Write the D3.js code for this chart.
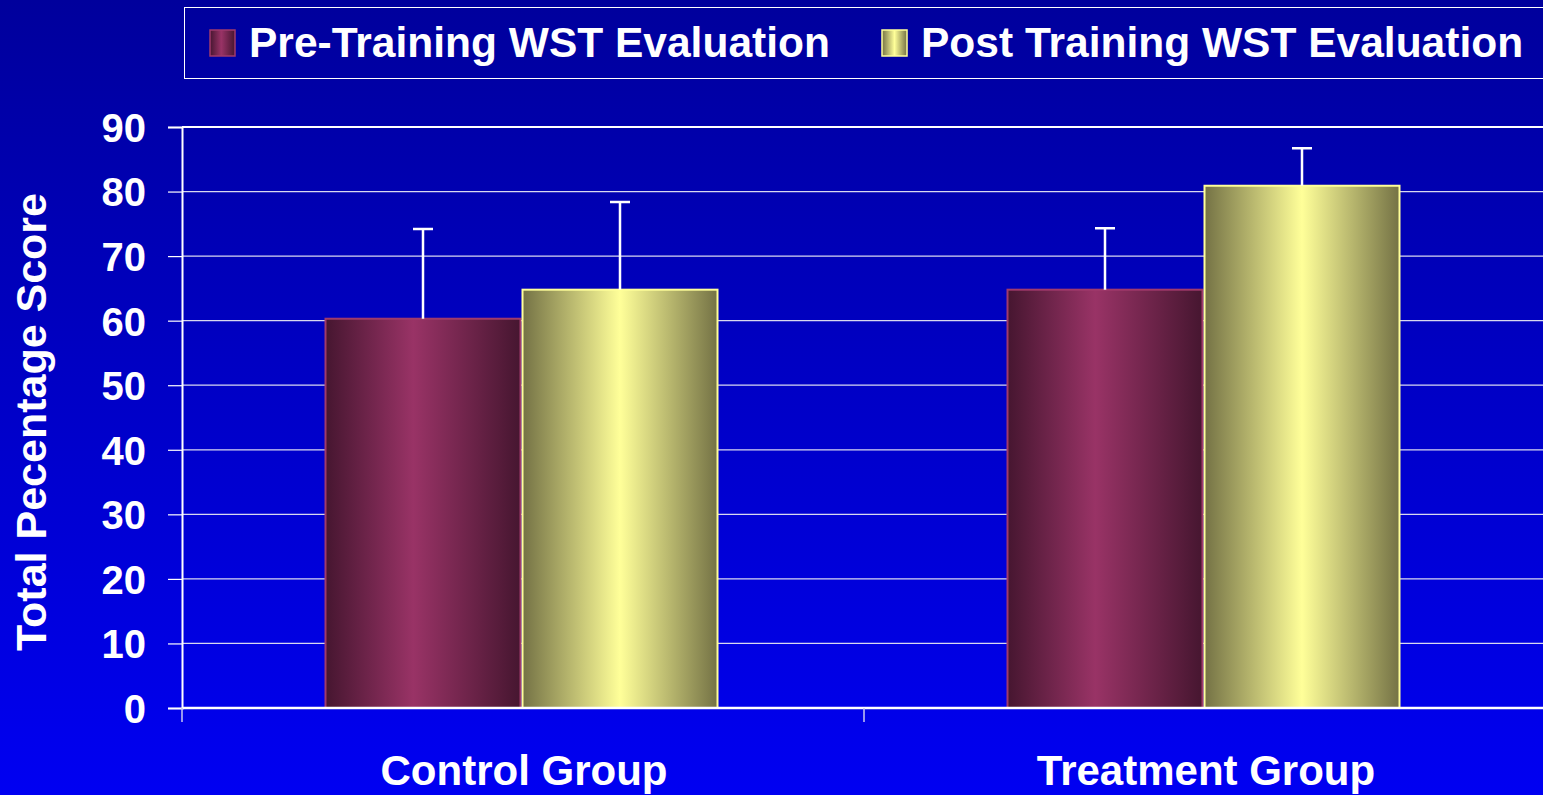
<!DOCTYPE html>
<html><head><meta charset="utf-8">
<script src="https://cdn.jsdelivr.net/npm/d3@7"></script>
<style>html,body{margin:0;padding:0;overflow:hidden;background:#0000c0}</style>
</head><body>
<script>
const categories = ["Control Group", "Treatment Group"];
const seriesNames = ["Pre-Training WST Evaluation", "Post Training WST Evaluation"];
const preValues = [60.3, 64.8];
const postValues = [64.8, 80.9];
const preErrors = [13.9, 9.5];
const postErrors = [13.6, 5.8];
const yTicks = [0, 10, 20, 30, 40, 50, 60, 70, 80, 90];
const yTitle = "Total Pecentage Score";

const W = 1543, H = 795;
const FONT = "Liberation Sans, Arial, sans-serif";
const svg = d3.select("body").append("svg").attr("width", W).attr("height", H)
  .style("font-family", FONT).style("font-weight", "bold");
const defs = svg.append("defs");

const bg = defs.append("linearGradient").attr("id", "bg").attr("x1", 0).attr("y1", 0).attr("x2", 0).attr("y2", 1);
bg.append("stop").attr("offset", "0%").attr("stop-color", "#00009c");
bg.append("stop").attr("offset", "100%").attr("stop-color", "#0000f2");
svg.append("rect").attr("width", W).attr("height", H).attr("fill", "url(#bg)");

function barGrad(id, edge, mid, peak) {
  const g = defs.append("linearGradient").attr("id", id).attr("x1", 0).attr("y1", 0).attr("x2", 1).attr("y2", 0);
  g.append("stop").attr("offset", "0%").attr("stop-color", edge);
  g.append("stop").attr("offset", peak).attr("stop-color", mid);
  g.append("stop").attr("offset", "100%").attr("stop-color", edge);
}
barGrad("gPre", "#461630", "#993366", "45%");
barGrad("gPost", "#747245", "#ffff99", "50%");

const margin = {left: 182, right: -3, top: 127, bottom: 87};
const x0 = d3.scaleBand().domain(categories).range([margin.left, W - margin.right]).paddingInner(0).paddingOuter(0);
const x1 = d3.scaleBand().domain(seriesNames).range([0, 394]);
const y = d3.scaleLinear().domain([0, 90]).range([H - margin.bottom, margin.top]);

// gridlines
svg.append("g").selectAll("line").data(yTicks.filter(d => d > 0 && d < 90)).join("line")
  .attr("x1", margin.left).attr("x2", W).attr("y1", d => y(d)).attr("y2", d => y(d))
  .attr("stroke", "#d8d8f0").attr("stroke-width", 1.2);
svg.append("line").attr("x1", margin.left).attr("x2", W).attr("y1", y(90)).attr("y2", y(90))
  .attr("stroke", "#ffffff").attr("stroke-width", 2);

// y axis
const yAxis = d3.axisLeft(y).tickValues(yTicks).tickSize(14).tickPadding(22);
const ya = svg.append("g").attr("transform", `translate(${margin.left},0)`).call(yAxis);
ya.select(".domain").attr("stroke", "#ffffff").attr("stroke-width", 2);
ya.selectAll(".tick line").attr("stroke", "#ffffff").attr("stroke-width", 1.2);
ya.selectAll(".tick text").attr("fill", "#ffffff").attr("font-size", 40).attr("font-weight", "bold")
  .attr("font-family", FONT).attr("dy", "0.36em");

// bars
const data = categories.map((c, i) => ({c, vals: [
  {s: seriesNames[0], v: preValues[i], e: preErrors[i], fill: "url(#gPre)", stroke: "#a03a6c"},
  {s: seriesNames[1], v: postValues[i], e: postErrors[i], fill: "url(#gPost)", stroke: "#ffff99"}
]}));
const grp = svg.append("g").selectAll("g").data(data).join("g")
  .attr("transform", d => `translate(${x0(d.c) + x0.bandwidth() / 2 - 198.5},0)`);
grp.selectAll("rect").data(d => d.vals).join("rect")
  .attr("x", d => x1(d.s) + 1).attr("width", x1.bandwidth() - 2)
  .attr("y", d => y(d.v)).attr("height", d => y(0) - y(d.v))
  .attr("fill", d => d.fill).attr("stroke", d => d.stroke).attr("stroke-width", 2);
// error bars
grp.selectAll("path.err").data(d => d.vals).join("path").attr("class", "err")
  .attr("d", d => {
    const cx = x1(d.s) + x1.bandwidth() / 2;
    return `M${cx},${y(d.v)}V${y(d.v + d.e)}M${cx - 10},${y(d.v + d.e)}H${cx + 10}`;
  })
  .attr("stroke", "#ffffff").attr("stroke-width", 2.5).attr("fill", "none");

// x axis
svg.append("line").attr("x1", margin.left).attr("x2", W).attr("y1", y(0)).attr("y2", y(0))
  .attr("stroke", "#ffffff").attr("stroke-width", 2.5);
svg.append("g").selectAll("line").data([categories[0], categories[1]]).join("line")
  .attr("x1", d => x0(d)).attr("x2", d => x0(d)).attr("y1", y(0)).attr("y2", y(0) + 14)
  .attr("stroke", "#c8c8f0").attr("stroke-width", 1.5);
svg.append("g").selectAll("text").data(categories).join("text")
  .attr("x", d => x0(d) + x0.bandwidth() / 2 + 1).attr("y", 785)
  .attr("text-anchor", "middle").attr("fill", "#ffffff").attr("font-size", 42)
  .text(d => d);

// y title
svg.append("text").attr("transform", `translate(46,${422}) rotate(-90)`)
  .attr("text-anchor", "middle").attr("fill", "#ffffff").attr("font-size", 43)
  .text(yTitle);

// legend
svg.append("rect").attr("x", 184.5).attr("y", 7.5).attr("width", 1400).attr("height", 71)
  .attr("fill", "none").attr("stroke", "#ffffff").attr("stroke-width", 1);
const legX = [210, 882];
const legFill = ["url(#gPre)", "url(#gPost)"];
const legStroke = ["#a03a6c", "#ffff99"];
const lg = svg.append("g").selectAll("g").data(seriesNames).join("g")
  .attr("transform", (d, i) => `translate(${legX[i]},0)`);
lg.append("rect").attr("x", 0).attr("y", 30).attr("width", 25).attr("height", 26)
  .attr("fill", (d, i) => legFill[i]).attr("stroke", (d, i) => legStroke[i]).attr("stroke-width", 1.5);
lg.append("text").attr("x", 39).attr("y", 57).attr("fill", "#ffffff").attr("font-size", 42.5)
  .text(d => d);
</script>
</body></html>
